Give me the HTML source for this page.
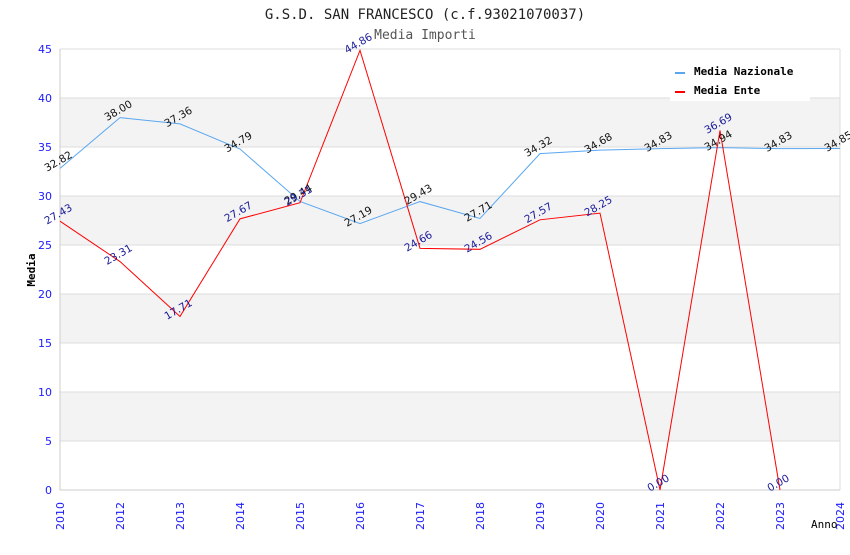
<!DOCTYPE html>
<html><head><meta charset="utf-8"><style>
body{margin:0;background:#fff;width:850px;height:550px;overflow:hidden}
svg text{font-family:"DejaVu Sans","Liberation Sans",sans-serif}
</style></head><body>
<svg id="chart" width="850" height="550" xmlns="http://www.w3.org/2000/svg">
<text x="425" y="19" text-anchor="middle" font-family="DejaVu Sans Mono, Liberation Mono, monospace" font-size="14" fill="#222" style="font-family:'DejaVu Sans Mono',monospace">G.S.D. SAN FRANCESCO (c.f.93021070037)</text>
<text x="425" y="39" text-anchor="middle" font-size="13" fill="#555" style="font-family:'DejaVu Sans Mono',monospace">Media Importi</text>
<g id="bands"></g><g id="grid"></g><g id="axes"></g><g id="series"></g><g id="labels"></g>
<g>
<rect x="670" y="57" width="140" height="44" fill="#fff"/>
<g><rect x="675" y="72" width="10" height="2" fill="#5aa7f0"/><text x="694" y="75" font-size="11" font-weight="bold" style="font-family:'DejaVu Sans Mono',monospace">Media Nazionale</text></g>
<g><rect x="675" y="91" width="10" height="2" fill="#f00"/><text x="694" y="94" font-size="11" font-weight="bold" style="font-family:'DejaVu Sans Mono',monospace">Media Ente</text></g>
</g>
<text transform="translate(35,270) rotate(-90)" text-anchor="middle" font-size="11" font-weight="bold" style="font-family:'DejaVu Sans Mono',monospace">Media</text>
<text x="811" y="528" font-size="11" style="font-family:'DejaVu Sans Mono',monospace">Anno</text>
</svg>
<script>
const categories=["2010","2012","2013","2014","2015","2016","2017","2018","2019","2020","2021","2022","2023","2024"];
const nazionale=[32.82,38.00,37.36,34.79,29.44,27.19,29.43,27.71,34.32,34.68,34.83,34.94,34.83,34.85];
const ente=[27.43,23.31,17.71,27.67,29.31,44.86,24.66,24.56,27.57,28.25,0.00,36.69,0.00,null];
const yTicks=[0,5,10,15,20,25,30,35,40,45];
const NS="http://www.w3.org/2000/svg";
const L=60,R=840,T=49,B=490,yMax=45;
const x=i=>L+i*(R-L)/(categories.length-1);
const y=v=>B-v*(B-T)/yMax;
function mk(tag,attrs,parent){const e=document.createElementNS(NS,tag);for(const k in attrs)e.setAttribute(k,attrs[k]);document.getElementById(parent).appendChild(e);return e;}
for(let i=0;i<yTicks.length-1;i++){
 if(i%2===1){const b=mk('rect',{x:L,y:y(yTicks[i+1]),width:R-L,height:y(yTicks[i])-y(yTicks[i+1]),fill:'#f3f3f3'},'bands');
 
 }
}
yTicks.forEach(t=>{
 const g=mk('line',{x1:L,x2:R,y1:y(t),y2:y(t),stroke:'#ddd','stroke-width':1},'grid');
 
 
 const tx=mk('text',{x:L-8,y:y(t)+4,'text-anchor':'end','font-size':11,fill:'#1a1aff'},'axes');
 tx.textContent=t;
 
 
});
mk('line',{x1:L,x2:L,y1:T,y2:B,stroke:'#ccc'},'axes');
mk('line',{x1:L,x2:R,y1:B,y2:B,stroke:'#ccc'},'axes');
mk('line',{x1:R,x2:R,y1:T,y2:B,stroke:'#ddd'},'axes');
categories.forEach((c,i)=>{
 const tx=mk('text',{transform:`translate(${x(i)+4},${B+40}) rotate(-90)`,'font-size':11,fill:'#1a1aff'},'axes');
 tx.textContent=c;
 
 
});
function series(vals,color,lblColor,name){
 let d='';vals.forEach((v,i)=>{if(v===null)return;d+=(d?'L':'M')+x(i)+','+y(v);});
 const p=mk('path',{d:d,fill:'none',stroke:color,'stroke-width':1},'series');
 
 
 vals.forEach((v,i)=>{if(v===null)return;
  const t=mk('text',{transform:`translate(${x(i)},${y(v)-4}) rotate(-30)`,'text-anchor':'middle','font-size':10.5,fill:lblColor},'labels');
  t.textContent=v.toFixed(2);
  
  
 });
}
series(nazionale,'#5aa7f0','#111','nazionale');
series(ente,'#f00','#1a1a99','ente');
</script>
</body></html>
